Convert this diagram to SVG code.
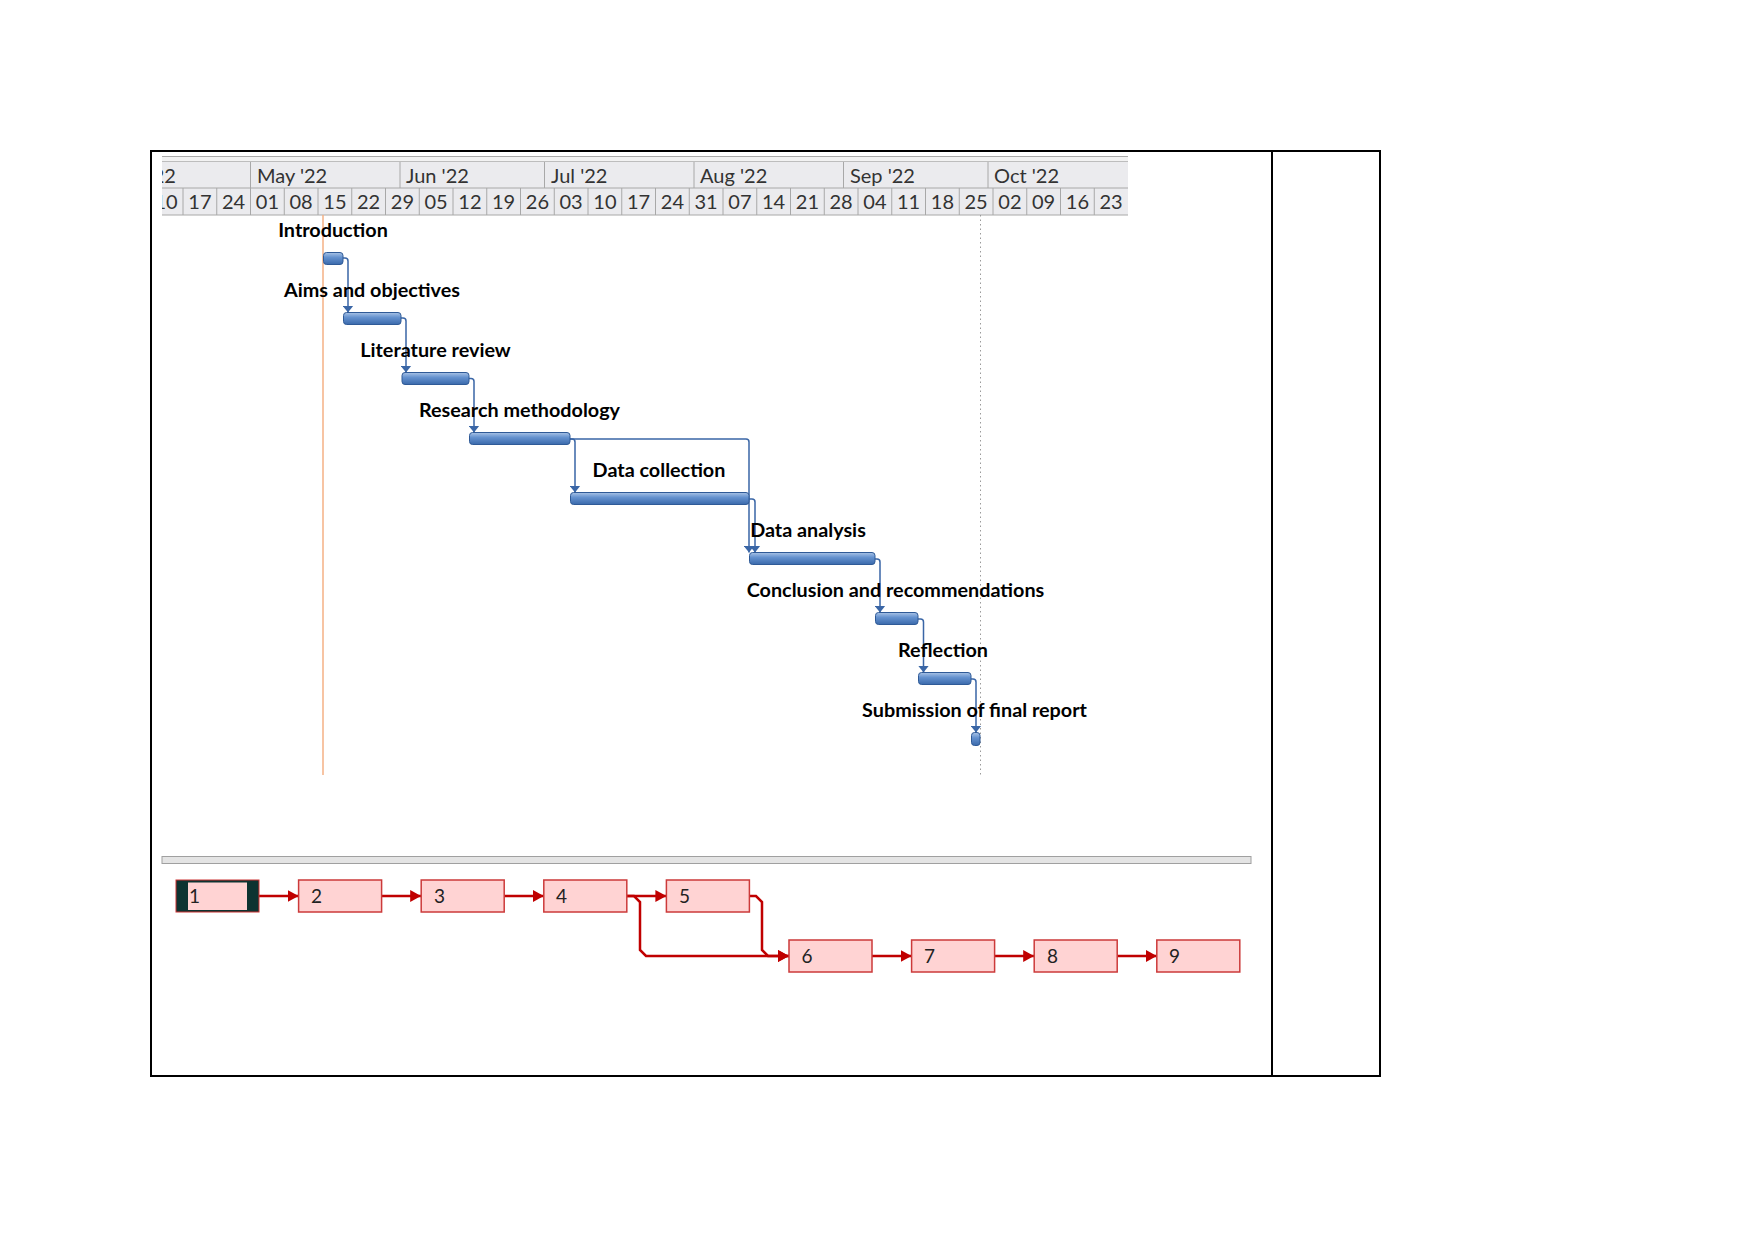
<svg xmlns="http://www.w3.org/2000/svg" width="1754" height="1241" viewBox="0 0 1754 1241">
<defs>
<style>
.hdr{font-family:Lato,"Liberation Sans",sans-serif;font-size:20px;fill:#333}
.wk{text-anchor:middle}
.sep{stroke:#a8a8a8;stroke-width:1}
.lbl{font-family:Lato,"Liberation Sans",sans-serif;font-size:19.8px;font-weight:bold;fill:#000;text-anchor:middle}
.bar{fill:url(#barg);stroke:#2f5a97;stroke-width:1}
.lnk{fill:none;stroke:#3a66a6;stroke-width:1.5}
.nbox{fill:#ffd3d3;stroke:#cc3a3a;stroke-width:1.5}
.ntxt{font-family:Lato,"Liberation Sans",sans-serif;font-size:19px;fill:#222}
.narr{fill:none;stroke:#c00000;stroke-width:2.5}
</style>
<linearGradient id="barg" x1="0" y1="0" x2="0" y2="1">
<stop offset="0" stop-color="#a9c3e6"/>
<stop offset="0.4" stop-color="#6592cf"/>
<stop offset="1" stop-color="#3a69ab"/>
</linearGradient>
<marker id="ga" viewBox="0 0 7 11" refX="7" refY="5.5" markerWidth="7" markerHeight="11" markerUnits="userSpaceOnUse" orient="auto">
<path d="M0,0 L7,5.5 L0,11 z" fill="#3a66a6"/>
</marker>
<marker id="na" viewBox="0 0 11 12" refX="11" refY="6" markerWidth="11" markerHeight="12" markerUnits="userSpaceOnUse" orient="auto">
<path d="M0,0 L11,6 L0,12 z" fill="#c00000"/>
</marker>
<clipPath id="hclip"><rect x="162" y="150" width="966" height="70"/></clipPath>
</defs>
<rect x="0" y="0" width="1754" height="1241" fill="#fff"/>
<g id="frame" fill="none" stroke="#000" stroke-width="2">
<rect x="151" y="151" width="1229" height="925"/>
<line x1="1272" y1="151" x2="1272" y2="1076"/>
</g>
<g id="timescale" clip-path="url(#hclip)">
<rect x="162" y="156" width="966" height="6" fill="#f2f2f2"/>
<line x1="162" y1="156.5" x2="1128" y2="156.5" stroke="#a9a9a9"/>
<line x1="162" y1="161.5" x2="1128" y2="161.5" stroke="#bdbdbd"/>
<rect x="162" y="162" width="966" height="53" fill="#ebebee"/>
<line x1="162" y1="188" x2="1128" y2="188" class="sep"/>
<line x1="162" y1="215" x2="1128" y2="215" class="sep"/>
<g class="sep">
<line x1="250.5" y1="162" x2="250.5" y2="188"/>
<line x1="400" y1="162" x2="400" y2="188"/>
<line x1="544.5" y1="162" x2="544.5" y2="188"/>
<line x1="694" y1="162" x2="694" y2="188"/>
<line x1="843.5" y1="162" x2="843.5" y2="188"/>
<line x1="988" y1="162" x2="988" y2="188"/>
<line x1="183" y1="188" x2="183" y2="215"/>
<line x1="216.75" y1="188" x2="216.75" y2="215"/>
<line x1="250.5" y1="188" x2="250.5" y2="215"/>
<line x1="284.25" y1="188" x2="284.25" y2="215"/>
<line x1="318" y1="188" x2="318" y2="215"/>
<line x1="351.75" y1="188" x2="351.75" y2="215"/>
<line x1="385.5" y1="188" x2="385.5" y2="215"/>
<line x1="419.25" y1="188" x2="419.25" y2="215"/>
<line x1="453" y1="188" x2="453" y2="215"/>
<line x1="486.75" y1="188" x2="486.75" y2="215"/>
<line x1="520.5" y1="188" x2="520.5" y2="215"/>
<line x1="554.25" y1="188" x2="554.25" y2="215"/>
<line x1="588" y1="188" x2="588" y2="215"/>
<line x1="621.75" y1="188" x2="621.75" y2="215"/>
<line x1="655.5" y1="188" x2="655.5" y2="215"/>
<line x1="689.25" y1="188" x2="689.25" y2="215"/>
<line x1="723" y1="188" x2="723" y2="215"/>
<line x1="756.75" y1="188" x2="756.75" y2="215"/>
<line x1="790.5" y1="188" x2="790.5" y2="215"/>
<line x1="824.25" y1="188" x2="824.25" y2="215"/>
<line x1="858" y1="188" x2="858" y2="215"/>
<line x1="891.75" y1="188" x2="891.75" y2="215"/>
<line x1="925.5" y1="188" x2="925.5" y2="215"/>
<line x1="959.25" y1="188" x2="959.25" y2="215"/>
<line x1="993" y1="188" x2="993" y2="215"/>
<line x1="1026.75" y1="188" x2="1026.75" y2="215"/>
<line x1="1060.5" y1="188" x2="1060.5" y2="215"/>
<line x1="1094.25" y1="188" x2="1094.25" y2="215"/>
</g>
<g class="hdr">
<text x="112" y="183">Apr '22</text>
<text x="257" y="183">May '22</text>
<text x="406" y="183">Jun '22</text>
<text x="551" y="183">Jul '22</text>
<text x="700" y="183">Aug '22</text>
<text x="850" y="183">Sep '22</text>
<text x="994" y="183">Oct '22</text>
</g>
<g class="hdr wk">
<text x="166.1" y="209">10</text>
<text x="199.9" y="209">17</text>
<text x="233.6" y="209">24</text>
<text x="267.4" y="209">01</text>
<text x="301.1" y="209">08</text>
<text x="334.9" y="209">15</text>
<text x="368.6" y="209">22</text>
<text x="402.4" y="209">29</text>
<text x="436.1" y="209">05</text>
<text x="469.9" y="209">12</text>
<text x="503.6" y="209">19</text>
<text x="537.4" y="209">26</text>
<text x="571.1" y="209">03</text>
<text x="604.9" y="209">10</text>
<text x="638.6" y="209">17</text>
<text x="672.4" y="209">24</text>
<text x="706.1" y="209">31</text>
<text x="739.9" y="209">07</text>
<text x="773.6" y="209">14</text>
<text x="807.4" y="209">21</text>
<text x="841.1" y="209">28</text>
<text x="874.9" y="209">04</text>
<text x="908.6" y="209">11</text>
<text x="942.4" y="209">18</text>
<text x="976.1" y="209">25</text>
<text x="1009.9" y="209">02</text>
<text x="1043.6" y="209">09</text>
<text x="1077.4" y="209">16</text>
<text x="1111.1" y="209">23</text>
</g>
</g>
<g id="gridlines">
<line x1="323" y1="215" x2="323" y2="775" stroke="#f4b084" stroke-width="1.5"/>
<line x1="980.5" y1="215" x2="980.5" y2="775" stroke="#9a9a9a" stroke-width="1" stroke-dasharray="1.5 3"/>
</g>
<g id="gantt-links">
<path class="lnk" d="M343,258 H345 Q348,258 348,261 V312.5" marker-end="url(#ga)"/>
<path class="lnk" d="M401,318 H403 Q406,318 406,321 V372.5" marker-end="url(#ga)"/>
<path class="lnk" d="M469,378.5 H471 Q474,378.5 474,381.5 V432.5" marker-end="url(#ga)"/>
<path class="lnk" d="M570,439 H572 Q575,439 575,442 V492.5" marker-end="url(#ga)"/>
<path class="lnk" d="M570,439 H746 Q749,439 749,442 V552.5" marker-end="url(#ga)"/>
<path class="lnk" d="M749,499 H752 Q755,499 755,502 V552.5" marker-end="url(#ga)"/>
<path class="lnk" d="M875,559 H877 Q880,559 880,562 V612.5" marker-end="url(#ga)"/>
<path class="lnk" d="M918,619 H920.5 Q923.5,619 923.5,622 V672.5" marker-end="url(#ga)"/>
<path class="lnk" d="M971,679 H973 Q976,679 976,682 V732.5" marker-end="url(#ga)"/>
</g>
<g id="task1"><rect class="bar" x="323.5" y="252.5" width="19.5" height="12" rx="3"/><text class="lbl" x="333" y="236.5">Introduction</text></g>
<g id="task2"><rect class="bar" x="343.5" y="312.5" width="57.5" height="12" rx="3"/><text class="lbl" x="372" y="296.5">Aims and objectives</text></g>
<g id="task3"><rect class="bar" x="402" y="372.5" width="67" height="12" rx="3"/><text class="lbl" x="435.5" y="356.5">Literature review</text></g>
<g id="task4"><rect class="bar" x="469.5" y="432.5" width="100.5" height="12" rx="3"/><text class="lbl" x="519.5" y="416.5">Research methodology</text></g>
<g id="task5"><rect class="bar" x="570.5" y="492.5" width="178.5" height="12" rx="3"/><text class="lbl" x="659" y="476.5">Data collection</text></g>
<g id="task6"><rect class="bar" x="749.5" y="552.5" width="125.5" height="12" rx="3"/><text class="lbl" x="808" y="536.5">Data analysis</text></g>
<g id="task7"><rect class="bar" x="875.5" y="612.5" width="42.5" height="12" rx="3"/><text class="lbl" x="895.5" y="596.5">Conclusion and recommendations</text></g>
<g id="task8"><rect class="bar" x="918.5" y="672.5" width="52.5" height="12" rx="3"/><text class="lbl" x="943" y="656.5">Reflection</text></g>
<g id="task9"><rect class="bar" x="971.5" y="732.5" width="8.5" height="13" rx="3"/><text class="lbl" x="974.5" y="717">Submission of final report</text></g>
<g id="network-divider">
<rect x="162" y="856.5" width="1089" height="7" fill="#e4e4e4" stroke="#a0a0a0" stroke-width="1"/>
</g>
<g id="network-links">
<path class="narr" d="M259,896 H298.6" marker-end="url(#na)"/>
<path class="narr" d="M381.6,896 H421.2" marker-end="url(#na)"/>
<path class="narr" d="M504.2,896 H543.8" marker-end="url(#na)"/>
<path class="narr" d="M626.8,896 H666.4" marker-end="url(#na)"/>
<path class="narr" d="M626.8,896 H634 L640,902 V950 L646,956 H789" marker-end="url(#na)"/>
<path class="narr" d="M749.4,896 H756 L762,902 V950 L768,956 H789" marker-end="url(#na)"/>
<path class="narr" d="M872,956 H911.6" marker-end="url(#na)"/>
<path class="narr" d="M994.6,956 H1034.2" marker-end="url(#na)"/>
<path class="narr" d="M1117.2,956 H1156.8" marker-end="url(#na)"/>
</g>
<g id="n1"><rect x="176" y="880" width="83" height="32" fill="#0d3331" stroke="#c33" stroke-width="1"/><rect x="188" y="882.5" width="59" height="27.5" fill="#ffd3d3"/><text class="ntxt" x="189" y="903">1</text></g>
<g id="n2"><rect class="nbox" x="298.6" y="880" width="83" height="32"/><text class="ntxt" x="311" y="903">2</text></g>
<g id="n3"><rect class="nbox" x="421.2" y="880" width="83" height="32"/><text class="ntxt" x="434" y="903">3</text></g>
<g id="n4"><rect class="nbox" x="543.8" y="880" width="83" height="32"/><text class="ntxt" x="556" y="903">4</text></g>
<g id="n5"><rect class="nbox" x="666.4" y="880" width="83" height="32"/><text class="ntxt" x="679" y="903">5</text></g>
<g id="n6"><rect class="nbox" x="789" y="940" width="83" height="32"/><text class="ntxt" x="801.5" y="963">6</text></g>
<g id="n7"><rect class="nbox" x="911.6" y="940" width="83" height="32"/><text class="ntxt" x="924" y="963">7</text></g>
<g id="n8"><rect class="nbox" x="1034.2" y="940" width="83" height="32"/><text class="ntxt" x="1047" y="963">8</text></g>
<g id="n9"><rect class="nbox" x="1156.8" y="940" width="83" height="32"/><text class="ntxt" x="1169" y="963">9</text></g>
</svg>
